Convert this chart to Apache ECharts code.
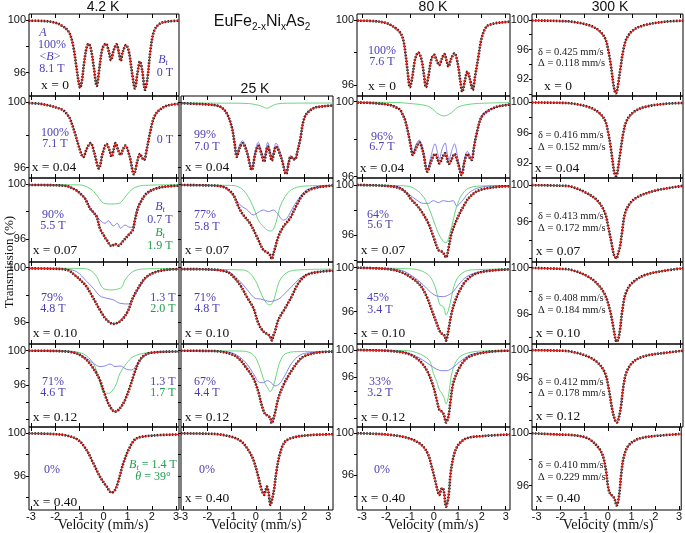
<!DOCTYPE html>
<html><head><meta charset="utf-8">
<script src="https://cdn.jsdelivr.net/npm/echarts@6/dist/echarts.min.js"></script>
<style>html,body{margin:0;padding:0;background:#fff}#c{width:685px;height:533px}</style>
</head><body><div id="c"></div>
<script>
// ---------- Readings: [velocity (mm/s), transmission (%)] ----------
// 4.2 K
const k4_x000_fit = [[-3.1,99.95],[-2.5,99.93],[-2.0,99.8],[-1.7,99.55],[-1.5,99.25],[-1.38,98.9],[-1.25,98.0],[-1.12,96.4],[-1.02,95.2],[-0.97,94.85],[-0.9,95.3],[-0.8,96.8],[-0.7,97.9],[-0.62,98.2],[-0.52,97.8],[-0.4,96.4],[-0.28,95.0],[-0.18,96.2],[-0.05,97.8],[0.1,98.2],[0.22,97.6],[0.31,96.95],[0.42,97.7],[0.54,98.15],[0.64,97.5],[0.71,96.9],[0.8,97.6],[0.93,98.1],[1.05,97.6],[1.18,96.0],[1.3,94.8],[1.4,95.9],[1.51,96.85],[1.6,96.2],[1.72,94.7],[1.82,95.6],[1.95,97.8],[2.1,99.2],[2.35,99.75],[2.7,99.9],[3.12,99.95]];
const k4_x004_fit = [[-3.1,99.95],[-2.6,99.9],[-2.2,99.78],[-1.9,99.65],[-1.66,99.5],[-1.5,99.25],[-1.39,99.0],[-1.18,98.1],[-1.0,97.2],[-0.84,96.65],[-0.68,97.2],[-0.53,97.5],[-0.38,96.9],[-0.19,95.96],[-0.03,96.9],[0.13,97.45],[0.24,97.1],[0.34,96.67],[0.42,97.1],[0.5,97.5],[0.6,97.1],[0.71,96.78],[0.8,97.1],[0.9,97.35],[1.08,96.7],[1.26,95.6],[1.4,96.4],[1.51,96.84],[1.6,96.6],[1.675,96.47],[1.8,97.2],[1.92,98.1],[2.13,99.2],[2.47,99.69],[2.8,99.85],[3.12,99.9]];
const k4_x007_fit = [[-3.1,99.93],[-2.2,99.92],[-1.52,99.85],[-1.3,99.7],[-1.11,99.52],[-0.9,99.2],[-0.77,98.96],[-0.56,98.23],[-0.4,97.9],[-0.28,97.62],[-0.15,96.78],[0.0,96.3],[0.13,95.93],[0.34,95.49],[0.48,95.64],[0.61,95.52],[0.82,95.88],[1.03,96.29],[1.21,96.65],[1.30,97.38],[1.4,98.1],[1.51,98.6],[1.79,99.32],[2.2,99.69],[2.6,99.82],[3.12,99.88]];
const k4_x007_blue = [[-3.1,99.95],[-2.2,99.93],[-1.52,99.87],[-1.11,99.55],[-0.77,99.0],[-0.56,98.3],[-0.4,97.95],[-0.28,97.7],[-0.15,97.38],[0.06,97.14],[0.2,97.33],[0.41,96.95],[0.57,97.14],[0.71,96.78],[0.89,97.02],[1.10,96.85],[1.21,96.9],[1.30,97.5],[1.4,98.2],[1.51,98.65],[1.79,99.35],[2.2,99.7],[3.12,99.9]];
const k4_x007_green = [[-3.1,99.95],[-1.0,99.94],[-0.56,99.68],[-0.28,99.2],[-0.08,98.72],[0.06,98.58],[0.3,98.55],[0.61,98.58],[0.75,98.72],[0.96,99.2],[1.23,99.68],[1.65,99.9],[3.12,99.95]];
const k4_x010_fit = [[-3.1,99.95],[-2.2,99.93],[-1.52,99.85],[-1.11,99.34],[-0.9,99.0],[-0.70,98.61],[-0.42,97.76],[-0.15,96.9],[0.13,96.17],[0.41,95.88],[0.61,95.98],[0.82,96.3],[1.03,96.9],[1.21,97.76],[1.51,98.73],[1.79,99.34],[2.2,99.71],[2.6,99.85],[3.12,99.9]];
const k4_x010_blue = [[-3.1,99.95],[-1.52,99.88],[-1.11,99.71],[-0.7,99.0],[-0.42,98.49],[-0.15,97.93],[0.13,97.76],[0.41,97.64],[0.68,97.39],[1.03,97.34],[1.21,97.76],[1.51,98.61],[1.79,99.34],[2.2,99.72],[3.12,99.9]];
const k4_x010_green = [[-3.1,99.96],[-1.0,99.95],[-0.56,99.83],[-0.28,99.34],[-0.08,98.61],[0.06,98.42],[0.3,98.37],[0.5,98.4],[0.75,98.56],[0.89,99.1],[1.21,99.71],[1.6,99.9],[3.12,99.95]];
const k4_x012_fit = [[-3.1,100.0],[-2.2,99.98],[-1.52,99.9],[-1.2,99.75],[-0.97,99.5],[-0.70,98.92],[-0.42,97.94],[-0.15,96.58],[0.06,94.84],[0.27,93.48],[0.48,92.89],[0.68,93.28],[0.89,94.25],[1.10,95.81],[1.30,97.56],[1.51,98.92],[1.79,99.62],[2.2,99.82],[2.61,99.89],[3.12,99.9]];
const k4_x012_blue = [[-3.1,100.0],[-1.52,99.92],[-1.11,99.69],[-0.70,99.11],[-0.42,98.53],[-0.15,98.14],[0.06,98.22],[0.27,98.45],[0.48,98.14],[0.68,98.22],[0.96,97.83],[1.17,97.75],[1.37,98.33],[1.65,99.3],[2.06,99.77],[3.12,99.9]];
const k4_x012_green = [[-3.1,100.0],[-1.5,99.95],[-0.97,99.77],[-0.70,99.38],[-0.42,98.53],[-0.21,96.97],[-0.08,95.62],[0.06,95.03],[0.2,95.03],[0.48,95.81],[0.68,97.36],[0.96,98.53],[1.23,99.3],[1.65,99.69],[2.2,99.85],[3.12,99.9]];
const k4_x040_fit = [[-3.1,100.0],[-2.2,99.95],[-1.52,99.8],[-1.04,99.37],[-0.70,98.43],[-0.42,97.19],[-0.15,95.94],[0.13,95.0],[0.34,94.44],[0.48,94.69],[0.61,95.47],[0.82,97.19],[1.10,98.75],[1.37,99.53],[2.06,99.8],[3.12,99.9]];
// 25 K
const k25_x004_fit = [[-3.1,99.94],[-2.5,99.9],[-1.9,99.85],[-1.48,99.73],[-1.21,99.33],[-1.0,98.51],[-0.88,97.5],[-0.79,96.67],[-0.67,97.2],[-0.55,97.49],[-0.38,97.0],[-0.17,95.86],[-0.03,96.8],[0.10,97.33],[0.22,96.9],[0.34,96.37],[0.42,96.9],[0.49,97.29],[0.58,96.9],[0.66,96.43],[0.75,96.9],[0.83,97.29],[1.05,96.6],[1.25,95.61],[1.36,96.3],[1.44,96.67],[1.53,96.55],[1.62,96.51],[1.72,97.0],[1.83,97.69],[2.03,99.12],[2.38,99.63],[2.8,99.75],[3.19,99.8]];
const k25_x004_blue = [[-3.1,99.95],[-1.9,99.86],[-1.48,99.75],[-1.21,99.36],[-1.0,98.55],[-0.88,97.6],[-0.79,96.8],[-0.67,97.4],[-0.55,97.65],[-0.38,97.15],[-0.17,96.0],[-0.03,97.0],[0.10,97.55],[0.22,97.1],[0.34,96.6],[0.42,97.15],[0.49,97.55],[0.58,97.1],[0.66,96.65],[0.75,97.1],[0.83,97.5],[1.05,96.75],[1.25,95.7],[1.36,96.4],[1.44,96.75],[1.53,96.62],[1.62,96.58],[1.72,97.05],[1.83,97.72],[2.03,99.15],[2.38,99.65],[3.19,99.8]];
const k25_x004_green = [[-3.1,99.95],[-1.0,99.94],[-0.3,99.92],[0.0,99.85],[0.2,99.78],[0.35,99.68],[0.45,99.63],[0.55,99.68],[0.7,99.8],[0.9,99.9],[1.3,99.94],[3.19,99.95]];
const k25_x007_fit = [[-3.1,99.93],[-2.0,99.9],[-1.48,99.85],[-1.21,99.68],[-0.93,99.2],[-0.72,98.35],[-0.52,97.75],[-0.24,97.14],[0.04,96.17],[0.31,95.2],[0.45,95.05],[0.52,94.96],[0.6,94.8],[0.66,94.55],[0.72,94.9],[0.79,95.32],[0.93,96.17],[1.14,96.9],[1.41,97.5],[1.69,98.47],[1.97,99.27],[2.38,99.68],[3.07,99.88],[3.19,99.9]];
const k25_x007_blue = [[-3.1,99.94],[-1.48,99.87],[-1.21,99.72],[-0.93,99.25],[-0.79,98.8],[-0.6,98.4],[-0.38,98.16],[-0.10,97.75],[0.10,97.94],[0.31,98.11],[0.52,97.99],[0.72,98.11],[0.86,97.94],[1.14,97.38],[1.28,97.5],[1.55,98.35],[1.83,99.08],[2.10,99.56],[2.5,99.8],[3.19,99.9]];
const k25_x007_green = [[-3.1,99.93],[-1.0,99.9],[-0.79,99.85],[-0.52,99.56],[-0.24,98.84],[-0.03,97.99],[0.10,97.38],[0.31,96.9],[0.59,96.58],[0.72,96.7],[0.86,97.38],[1.0,98.35],[1.21,99.08],[1.48,99.6],[1.97,99.85],[3.19,99.9]];
const k25_x010_fit = [[-3.1,99.9],[-2.0,99.88],[-1.21,99.71],[-0.93,99.34],[-0.65,98.73],[-0.38,97.88],[-0.10,97.03],[0.10,95.93],[0.31,95.32],[0.52,95.08],[0.6,94.9],[0.66,94.66],[0.72,95.0],[0.79,95.32],[0.93,96.17],[1.21,97.03],[1.48,97.88],[1.76,98.86],[2.10,99.47],[2.66,99.71],[3.19,99.78]];
const k25_x010_blue = [[-3.1,99.92],[-1.21,99.75],[-0.93,99.47],[-0.52,98.73],[-0.24,98.13],[-0.03,97.76],[0.2,97.7],[0.4,97.6],[0.59,97.52],[0.86,97.64],[1.0,97.76],[1.21,98.13],[1.48,98.61],[1.83,99.22],[2.24,99.59],[3.19,99.8]];
const k25_x010_green = [[-3.1,99.9],[-0.52,99.83],[-0.24,99.59],[0.04,98.86],[0.24,98.0],[0.45,97.39],[0.59,97.27],[0.72,97.52],[0.86,98.37],[1.0,99.1],[1.28,99.64],[1.69,99.83],[3.19,99.9]];
const k25_x012_fit = [[-3.1,100.0],[-2.0,99.97],[-1.48,99.9],[-0.93,99.5],[-0.65,98.92],[-0.38,97.94],[-0.10,96.78],[0.10,95.22],[0.24,93.67],[0.38,92.62],[0.52,92.39],[0.6,92.1],[0.66,91.54],[0.72,92.0],[0.79,92.7],[0.93,94.45],[1.14,96.0],[1.41,97.36],[1.69,98.53],[1.97,99.3],[2.52,99.77],[3.19,99.9]];
const k25_x012_blue = [[-3.1,100.0],[-1.48,99.92],[-0.93,99.69],[-0.52,98.92],[-0.24,97.94],[-0.03,96.97],[0.10,96.39],[0.31,96.27],[0.47,96.51],[0.66,96.2],[0.79,95.88],[1.0,96.2],[1.21,97.17],[1.48,98.53],[1.83,99.5],[2.24,99.77],[3.19,99.9]];
const k25_x012_green = [[-3.1,100.0],[-0.5,99.95],[-0.10,99.5],[0.10,98.53],[0.24,97.36],[0.38,96.2],[0.52,95.5],[0.59,95.22],[0.72,95.81],[0.86,97.36],[1.0,98.73],[1.21,99.62],[1.69,99.89],[3.19,99.92]];
const k25_x040_fit = [[-3.1,100.0],[-2.0,99.97],[-1.48,99.9],[-0.93,99.62],[-0.59,99.22],[-0.31,98.43],[-0.10,97.5],[0.10,95.94],[0.24,94.69],[0.35,94.22],[0.40,94.6],[0.46,95.0],[0.52,94.5],[0.61,93.28],[0.68,93.9],[0.75,94.69],[0.86,96.56],[1.0,98.13],[1.21,99.22],[1.55,99.62],[2.24,99.84],[3.19,99.92]];
// 80 K
const k80_x000_fit = [[-3.2,99.96],[-2.5,99.93],[-2.0,99.82],[-1.7,99.6],[-1.45,99.3],[-1.3,98.9],[-1.2,98.1],[-1.1,96.9],[-1.0,95.86],[-0.9,96.5],[-0.78,97.6],[-0.65,97.99],[-0.52,97.6],[-0.42,96.7],[-0.33,95.86],[-0.22,96.6],[-0.1,97.6],[0.01,97.85],[0.12,97.5],[0.22,97.23],[0.33,97.6],[0.44,97.9],[0.53,97.5],[0.61,97.13],[0.72,97.6],[0.86,97.95],[1.0,97.3],[1.1,96.3],[1.19,95.59],[1.3,96.3],[1.4,96.82],[1.5,96.4],[1.62,95.69],[1.72,96.5],[1.86,97.74],[2.0,98.9],[2.2,99.59],[2.5,99.78],[2.76,99.84],[3.18,99.9]];
const k80_x004_fit = [[-3.2,99.95],[-2.5,99.92],[-1.83,99.82],[-1.6,99.7],[-1.41,99.56],[-1.3,99.3],[-1.2,99.0],[-1.07,98.31],[-0.96,97.6],[-0.88,97.16],[-0.75,97.5],[-0.61,97.82],[-0.45,97.3],[-0.27,96.27],[-0.12,96.8],[0.05,97.21],[0.15,96.95],[0.23,96.71],[0.35,97.0],[0.47,97.25],[0.55,96.95],[0.63,96.68],[0.75,96.95],[0.86,97.21],[1.0,96.75],[1.16,96.09],[1.28,96.8],[1.40,97.21],[1.5,97.0],[1.58,96.89],[1.68,97.6],[1.79,98.31],[2.0,99.2],[2.34,99.56],[2.7,99.75],[3.04,99.82],[3.18,99.85]];
const k80_x004_blue = [[-3.2,99.97],[-1.6,99.75],[-1.3,99.35],[-1.2,99.05],[-1.07,98.4],[-0.96,97.7],[-0.88,97.25],[-0.75,97.7],[-0.61,97.95],[-0.45,97.45],[-0.27,96.4],[-0.12,97.1],[0.05,97.75],[0.15,97.3],[0.23,96.95],[0.35,97.5],[0.47,97.8],[0.55,97.3],[0.63,96.9],[0.75,97.4],[0.86,97.75],[1.0,97.0],[1.16,96.2],[1.28,96.95],[1.40,97.35],[1.5,97.15],[1.58,96.98],[1.68,97.7],[1.79,98.38],[2.0,99.25],[2.34,99.6],[3.18,99.86]];
const k80_x004_green = [[-3.2,99.97],[-1.5,99.95],[-1.0,99.9],[-0.6,99.85],[-0.3,99.78],[-0.16,99.7],[0.0,99.55],[0.12,99.4],[0.3,99.27],[0.44,99.24],[0.6,99.3],[0.74,99.42],[0.9,99.6],[1.02,99.72],[1.3,99.82],[1.8,99.9],[3.18,99.95]];
const k80_x007_fit = [[-3.2,100.0],[-2.5,99.97],[-1.83,99.9],[-1.41,99.73],[-1.13,99.33],[-0.93,98.8],[-0.72,98.4],[-0.51,97.87],[-0.23,96.93],[-0.02,95.87],[0.19,94.8],[0.33,94.67],[0.42,94.48],[0.51,94.21],[0.61,94.93],[0.74,96.13],[0.95,97.2],[1.23,98.27],[1.51,99.07],[1.93,99.6],[2.76,99.87],[3.18,99.9]];
const k80_x007_blue = [[-3.2,100.0],[-1.83,99.92],[-1.41,99.81],[-1.0,99.2],[-0.72,98.8],[-0.44,98.53],[-0.23,98.53],[-0.02,98.75],[0.19,98.59],[0.40,98.75],[0.61,98.67],[0.81,98.75],[0.95,98.32],[1.16,98.67],[1.44,99.33],[1.79,99.73],[2.34,99.92],[3.18,99.95]];
const k80_x007_green = [[-3.2,100.0],[-1.13,99.92],[-0.72,99.6],[-0.44,99.07],[-0.23,98.27],[-0.02,97.2],[0.19,96.13],[0.40,95.47],[0.51,95.39],[0.67,96.13],[0.81,97.2],[0.95,98.27],[1.16,99.2],[1.44,99.73],[1.93,99.92],[3.18,99.95]];
const k80_x010_fit = [[-3.2,100.0],[-2.5,99.95],[-1.83,99.85],[-1.41,99.64],[-1.0,99.18],[-0.58,98.43],[-0.30,97.37],[-0.09,96.15],[0.12,94.94],[0.26,94.18],[0.40,93.88],[0.46,93.8],[0.51,93.37],[0.56,93.7],[0.61,94.34],[0.74,95.85],[0.88,96.91],[1.09,97.97],[1.37,98.88],[1.79,99.49],[2.48,99.76],[3.18,99.85]];
const k80_x010_blue = [[-3.2,100.0],[-1.41,99.79],[-0.86,99.18],[-0.44,98.43],[-0.16,97.82],[0.12,97.43],[0.40,97.37],[0.61,97.52],[0.81,97.82],[1.02,98.43],[1.37,99.18],[1.93,99.64],[2.76,99.79],[3.18,99.85]];
const k80_x010_green = [[-3.2,100.0],[-0.86,99.88],[-0.44,99.64],[-0.16,99.18],[0.05,98.28],[0.19,97.06],[0.26,96.61],[0.40,96.46],[0.51,95.7],[0.61,96.15],[0.74,97.37],[0.88,98.58],[1.09,99.34],[1.51,99.79],[3.18,99.88]];
const k80_x012_fit = [[-3.2,100.0],[-2.5,99.95],[-1.83,99.86],[-1.13,99.51],[-0.72,98.78],[-0.44,97.8],[-0.23,96.58],[-0.02,94.63],[0.12,92.68],[0.23,91.22],[0.33,90.97],[0.42,90.48],[0.51,89.36],[0.61,90.24],[0.70,92.68],[0.81,95.12],[1.02,97.07],[1.30,98.54],[1.65,99.27],[2.34,99.76],[3.18,99.9]];
const k80_x012_blue = [[-3.2,100.0],[-1.83,99.9],[-1.13,99.61],[-0.58,98.78],[-0.16,97.8],[0.12,97.17],[0.33,96.97],[0.54,96.97],[0.81,97.46],[1.09,98.29],[1.51,99.27],[2.07,99.61],[3.18,99.9]];
const k80_x012_green = [[-3.2,100.0],[-1.13,99.9],[-0.72,99.61],[-0.37,99.02],[-0.16,98.29],[-0.02,96.58],[0.12,95.36],[0.23,94.14],[0.33,93.66],[0.42,93.07],[0.51,92.09],[0.61,93.17],[0.70,95.61],[0.81,97.31],[1.02,98.78],[1.37,99.51],[2.0,99.85],[3.18,99.9]];
const k80_x040_fit = [[-3.2,100.0],[-2.5,99.95],[-1.83,99.85],[-1.13,99.58],[-0.72,99.2],[-0.44,98.72],[-0.23,97.92],[-0.09,96.8],[0.05,95.52],[0.15,94.56],[0.23,94.08],[0.30,94.6],[0.36,94.75],[0.42,94.4],[0.51,92.96],[0.58,93.5],[0.64,94.5],[0.70,96.16],[0.84,97.92],[1.02,98.88],[1.37,99.52],[2.07,99.74],[3.18,99.88]];
// 300 K
const k300_x000_fit = [[-3.2,99.92],[-2.93,99.92],[-2.0,99.85],[-1.54,99.77],[-0.85,99.32],[-0.43,98.64],[-0.15,97.51],[-0.02,95.93],[0.10,93.67],[0.19,91.42],[0.25,90.4],[0.30,90.06],[0.35,90.4],[0.40,91.42],[0.50,93.67],[0.61,95.93],[0.75,97.51],[1.03,98.64],[1.51,99.32],[2.35,99.77],[3.1,99.9]];
const k300_x004_fit = [[-3.2,99.98],[-2.0,99.93],[-1.54,99.85],[-0.85,99.4],[-0.43,98.7],[-0.15,97.6],[-0.02,96.0],[0.10,93.8],[0.19,91.6],[0.25,90.6],[0.30,90.33],[0.35,90.6],[0.40,91.6],[0.50,93.8],[0.61,96.0],[0.75,97.6],[1.03,98.7],[1.51,99.4],[2.35,99.8],[3.1,99.92]];
const k300_x007_fit = [[-3.2,99.98],[-2.0,99.92],[-1.54,99.8],[-0.85,99.02],[-0.43,98.18],[-0.15,96.91],[-0.02,95.46],[0.12,93.64],[0.22,92.37],[0.32,92.0],[0.40,92.6],[0.47,93.28],[0.57,95.09],[0.68,96.91],[0.89,98.0],[1.23,98.73],[1.93,99.38],[3.04,99.89],[3.1,99.9]];
const k300_x010_fit = [[-3.2,99.98],[-2.0,99.9],[-1.54,99.8],[-0.85,99.23],[-0.43,98.52],[-0.15,97.66],[0.05,96.38],[0.19,94.95],[0.27,94.0],[0.33,93.66],[0.40,93.9],[0.47,94.66],[0.57,96.38],[0.71,97.8],[0.96,98.66],[1.51,99.37],[2.35,99.75],[3.1,99.95]];
const k300_x012_fit = [[-3.2,99.98],[-2.0,99.9],[-1.54,99.76],[-0.85,99.06],[-0.43,98.12],[-0.15,96.71],[0.01,94.35],[0.15,91.53],[0.26,90.11],[0.33,89.74],[0.40,90.11],[0.51,92.0],[0.61,94.82],[0.75,96.94],[1.03,98.35],[1.51,99.15],[2.35,99.6],[3.1,99.9]];
const k300_x040_fit = [[-3.2,100.0],[-2.0,99.9],[-1.54,99.87],[-0.85,99.62],[-0.43,98.98],[-0.22,98.34],[-0.08,97.2],[0.01,95.93],[0.10,95.37],[0.21,95.21],[0.30,94.91],[0.37,94.48],[0.47,95.16],[0.57,96.95],[0.68,98.22],[0.89,99.1],[1.37,99.62],[2.35,99.85],[3.1,99.95]];

// tick labels
const velTicks = [-3,-2,-1,0,1,2,3];
const temps = ['4.2 K','25 K','80 K','300 K'];

// ---------- layout ----------
const SERIF = '"Liberation Serif","Times New Roman",serif';
const SANS = '"Liberation Sans",Arial,sans-serif';
const COLS = [
  {left:29, width:150, xmin:-3.083, xmax:3.124},
  {left:181, width:152, xmin:-3.095, xmax:3.19},
  {left:357, width:153, xmin:-3.21, xmax:3.18},
  {left:532, width:151, xmin:-3.196, xmax:3.096}
];
const ROWS = [{top:14,h:82},{top:96,h:82},{top:178,h:84},{top:262,h:82},{top:344,h:83},{top:427,h:83}];

const panels = [
  {c:0,r:0,fit:k4_x000_fit,ymin:94.23,ymax:100.46,yl:[96,100]},
  {c:0,r:1,fit:k4_x004_fit,ymin:95.37,ymax:100.38,yl:[96,100]},
  {c:0,r:2,fit:k4_x007_fit,blue:k4_x007_blue,green:k4_x007_green,ymin:94.33,ymax:100.44,yl:[96,100]},
  {c:0,r:3,fit:k4_x010_fit,blue:k4_x010_blue,green:k4_x010_green,ymin:94.4,ymax:100.42,yl:[96,100]},
  {c:0,r:4,fit:k4_x012_fit,blue:k4_x012_blue,green:k4_x012_green,ymin:91.1,ymax:100.78,yl:[96,100]},
  {c:0,r:5,fit:k4_x040_fit,ymin:92.8,ymax:100.6,yl:[96,100]},
  {c:1,r:1,fit:k25_x004_fit,blue:k25_x004_blue,green:k25_x004_green,ymin:95.37,ymax:100.38,yl:[]},
  {c:1,r:2,fit:k25_x007_fit,blue:k25_x007_blue,green:k25_x007_green,ymin:94.33,ymax:100.44,yl:[]},
  {c:1,r:3,fit:k25_x010_fit,blue:k25_x010_blue,green:k25_x010_green,ymin:94.4,ymax:100.42,yl:[]},
  {c:1,r:4,fit:k25_x012_fit,blue:k25_x012_blue,green:k25_x012_green,ymin:91.1,ymax:100.78,yl:[]},
  {c:1,r:5,fit:k25_x040_fit,ymin:92.8,ymax:100.6,yl:[]},
  {c:2,r:0,fit:k80_x000_fit,ymin:95.32,ymax:100.37,yl:[96,100]},
  {c:2,r:1,fit:k80_x004_fit,blue:k80_x004_blue,green:k80_x004_green,ymin:95.93,ymax:100.3,yl:[96,100]},
  {c:2,r:2,fit:k80_x007_fit,blue:k80_x007_blue,green:k80_x007_green,ymin:93.84,ymax:100.56,yl:[96,100]},
  {c:2,r:3,fit:k80_x010_fit,blue:k80_x010_blue,green:k80_x010_green,ymin:93.06,ymax:100.52,yl:[96,100]},
  {c:2,r:4,fit:k80_x012_fit,blue:k80_x012_blue,green:k80_x012_green,ymin:88.7,ymax:100.88,yl:[96,100]},
  {c:2,r:5,fit:k80_x040_fit,ymin:92.64,ymax:100.6,yl:[96,100]},
  {c:3,r:0,fit:k300_x000_fit,ymin:89.7,ymax:100.81,yl:[92,96,100]},
  {c:3,r:1,fit:k300_x004_fit,ymin:90.07,ymax:100.83,yl:[92,96,100]},
  {c:3,r:2,fit:k300_x007_fit,ymin:91.6,ymax:100.76,yl:[96,100]},
  {c:3,r:3,fit:k300_x010_fit,ymin:93.46,ymax:100.49,yl:[96,100]},
  {c:3,r:4,fit:k300_x012_fit,ymin:89.1,ymax:100.85,yl:[96,100]},
  {c:3,r:5,fit:k300_x040_fit,ymin:94.14,ymax:100.48,yl:[96,100]}
];

const RED='#e0221c', BLUE='#7b78e8', GREEN='#6cd67f', DOTS='#1b1b1b';
const grid=[], xAxis=[], yAxis=[], series=[];
panels.forEach((p,i)=>{
  const C=COLS[p.c], R=ROWS[p.r];
  grid.push({left:C.left, top:R.top, width:C.width, height:R.h, show:true, borderColor:'#000', borderWidth:1, backgroundColor:'transparent'});
  const xi = xAxis.length;
  xAxis.push({type:'value', gridIndex:i, min:C.xmin, max:C.xmax, position:'bottom',
    axisLine:{show:false, onZero:false}, splitLine:{show:false},
    axisTick:{show:true, inside:true, length:4, customValues:velTicks, lineStyle:{color:'#000'}},
    axisLabel:{show:p.r===5, customValues:velTicks, formatter:v=>String(v), fontSize:11, fontFamily:SANS, color:'#111', margin:1}});
  xAxis.push({type:'value', gridIndex:i, min:C.xmin, max:C.xmax, position:'top',
    axisLine:{show:false, onZero:false}, splitLine:{show:false},
    axisTick:{show:true, inside:true, length:4, customValues:velTicks, lineStyle:{color:'#000'}},
    axisLabel:{show:false}});
  const yt=[]; for(let v=Math.ceil(p.ymin/2)*2; v<=p.ymax; v+=2) yt.push(v);
  yAxis.push({type:'value', gridIndex:i, min:p.ymin, max:p.ymax, position:'left',
    axisLine:{show:false, onZero:false}, splitLine:{show:false},
    axisTick:{show:true, inside:false, length:3, customValues:yt, lineStyle:{color:'#000'}},
    axisLabel:{show:p.yl.length>0, customValues:p.yl.length?p.yl:[100], fontSize:11, fontFamily:SANS, color:'#111', margin:3}});
  const base={type:'line', xAxisIndex:xi, yAxisIndex:i, symbol:'none', smooth:0.35, silent:true, animation:false};
  if(p.green) series.push(Object.assign({},base,{data:p.green, lineStyle:{color:GREEN,width:1}, z:2}));
  if(p.blue) series.push(Object.assign({},base,{data:p.blue, lineStyle:{color:BLUE,width:0.9}, z:3}));
  series.push(Object.assign({},base,{data:p.fit, lineStyle:{color:DOTS,width:2.6,type:[1.6,1.4]}, z:4}));
  series.push(Object.assign({},base,{data:p.fit, lineStyle:{color:RED,width:1.1}, z:5}));
});

// ---------- texts ----------
const TB='#4b3db8', TG='#1f9e4c';
const RICH={
  i:{fontFamily:SERIF, fontStyle:'italic', fontSize:12, lineHeight:14, verticalAlign:'middle'},
  s:{fontFamily:SERIF, fontStyle:'italic', fontSize:8.5, lineHeight:7, verticalAlign:'bottom'},
  sub:{fontFamily:SANS, fontSize:10, lineHeight:8, verticalAlign:'bottom'},
  m:{fontFamily:SANS, fontSize:16, lineHeight:20, verticalAlign:'middle'}
};
const labels = [
  // 4.2 K
  [43,33,'{i|A}',TB],[52,45,'100%',TB],[50,57,'<{i|B}>',TB],[52,69,'8.1 T',TB],[163,60,'{i|B}{s|t}',TB],[165,73,'0 T',TB],[55,85,'x = 0','k'],
  [55,133,'100%',TB],[55,144,'7.1 T',TB],[165,140,'0 T',TB],[54,167,'x = 0.04','k'],
  [53,215,'90%',TB],[53,226,'5.5 T',TB],[160,207,'{i|B}{s|t}',TB],[160,220,'0.7 T',TB],[160,233,'{i|B}{s|t}',TG],[160,246,'1.9 T',TG],[55,250,'x = 0.07','k'],
  [52,298,'79%',TB],[53,309,'4.8 T',TB],[163,298,'1.3 T',TB],[163,309,'2.0 T',TG],[55,333,'x = 0.10','k'],
  [53,382,'71%',TB],[53,393,'4.6 T',TB],[163,382,'1.3 T',TB],[163,393,'1.7 T',TG],[55,417,'x = 0.12','k'],
  [52,470,'0%',TB],[153,465,'{i|B}{s|t} = 1.4 T',TG],[153,477,'{i|θ} = 39°',TG],[55,502,'x = 0.40','k'],
  // 25 K
  [205,135,'99%',TB],[207,147,'7.0 T',TB],[207,167,'x = 0.04','k'],
  [205,215,'77%',TB],[207,227,'5.8 T',TB],[207,250,'x = 0.07','k'],
  [205,298,'71%',TB],[207,309,'4.8 T',TB],[207,333,'x = 0.10','k'],
  [205,382,'67%',TB],[207,393,'4.4 T',TB],[207,417,'x = 0.12','k'],
  [207,470,'0%',TB],[207,498,'x = 0.40','k'],
  // 80 K
  [382,51,'100%',TB],[382,62,'7.6 T',TB],[382,86,'x = 0','k'],
  [382,137,'96%',TB],[382,147,'6.7 T',TB],[382,168,'x = 0.04','k'],
  [378,215,'64%',TB],[380,225,'5.6 T',TB],[383,250,'x = 0.07','k'],
  [378,298,'45%',TB],[380,310,'3.4 T',TB],[383,333,'x = 0.10','k'],
  [380,382,'33%',TB],[380,393,'3.2 T',TB],[383,417,'x = 0.12','k'],
  [382,470,'0%',TB],[383,498,'x = 0.40','k'],
  // 300 K
  [558,86,'x = 0','k'],[557,168,'x = 0.04','k'],[558,251,'x = 0.07','k'],[558,333,'x = 0.10','k'],[558,416,'x = 0.12','k'],[558,498,'x = 0.40','k']
];
const deltas = [
  [52,'δ = 0.425 mm/s'],[63,'Δ = 0.118 mm/s'],[135,'δ = 0.416 mm/s'],[147,'Δ = 0.152 mm/s'],
  [216,'δ = 0.413 mm/s'],[228,'Δ = 0.172 mm/s'],[298,'δ = 0.408 mm/s'],[310,'Δ = 0.184 mm/s'],
  [382,'δ = 0.412 mm/s'],[393,'Δ = 0.178 mm/s'],[465,'δ = 0.410 mm/s'],[477,'Δ = 0.229 mm/s']
];
const graphic=[];
labels.forEach(([x,y,t,col])=>{
  const black = col==='k';
  graphic.push({type:'text', x, y, silent:true, z:100, style:{text:t, rich:RICH, fill: black?'#111':col,
    font: black ? '13.5px '+SERIF : '12px '+SERIF, align:'center', verticalAlign:'middle', lineHeight:14}});
});
deltas.forEach(([y,t])=>graphic.push({type:'text', x:538, y, silent:true, z:100, style:{text:t, fill:'#222', font:'10.5px '+SERIF, align:'left', verticalAlign:'middle'}}));
const tx=[103,255,433,610], ty=[7,89,7,7];
temps.forEach((t,k)=>graphic.push({type:'text', x:tx[k], y:ty[k], silent:true, style:{text:t, fill:'#111', font:'14px '+SANS, align:'center', verticalAlign:'middle'}}));
graphic.push({type:'text', x:262, y:22, silent:true, style:{text:'{m|EuFe}{sub|2-x}{m|Ni}{sub|x}{m|As}{sub|2}', rich:RICH, fill:'#111', align:'center', verticalAlign:'middle'}});
[103,256,433,608].forEach(x=>graphic.push({type:'text', x, y:525, silent:true, style:{text:'Velocity (mm/s)', fill:'#111', font:'14px '+SERIF, align:'center', verticalAlign:'middle'}}));
graphic.push({type:'text', x:10, y:262, rotation:Math.PI/2, silent:true, style:{text:'Transmission (%)', fill:'#111', font:'13px '+SERIF, align:'center', verticalAlign:'middle'}});

const chart = echarts.init(document.getElementById('c'), null, {renderer:'canvas'});
chart.setOption({animation:false, backgroundColor:'#fff', grid, xAxis, yAxis, series, graphic});
</script></body></html>
